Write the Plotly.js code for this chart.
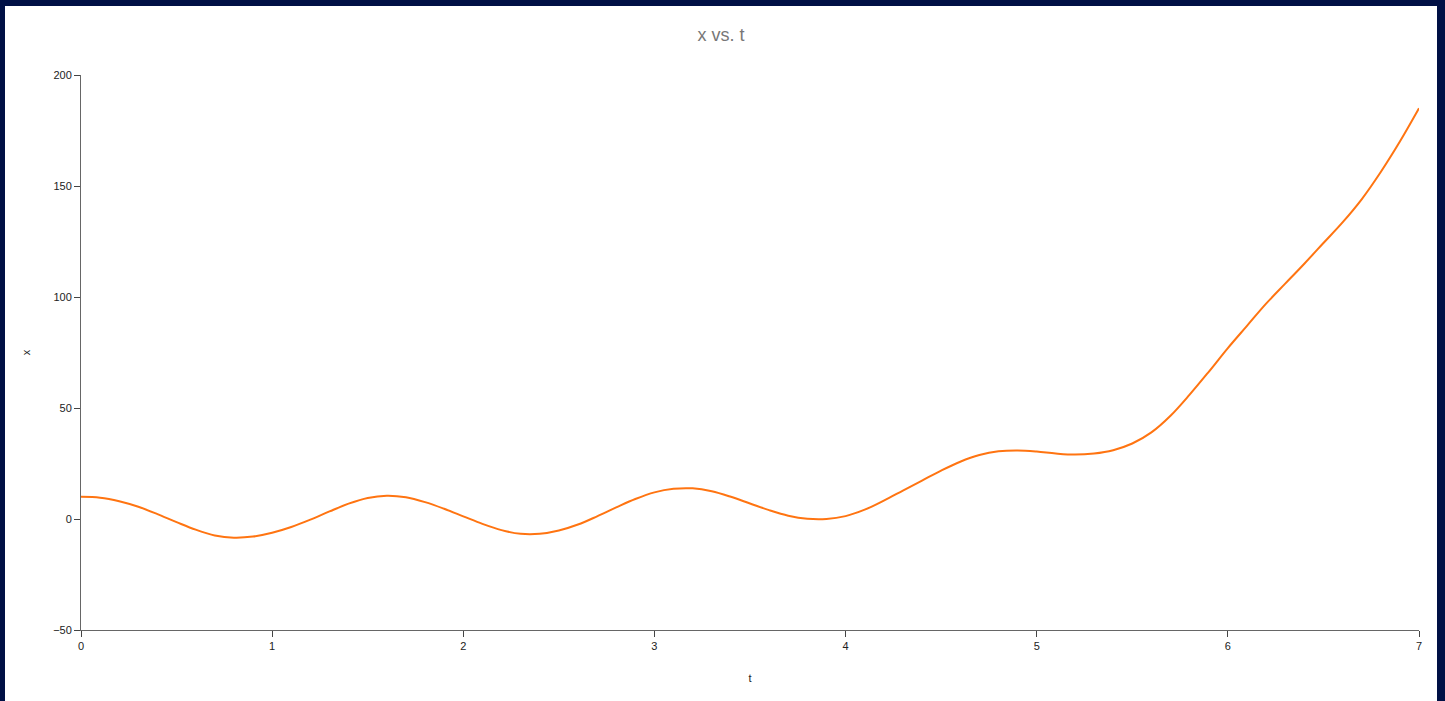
<!DOCTYPE html>
<html>
<head>
<meta charset="utf-8">
<script src="https://cdn.plot.ly/plotly-3.0.1.min.js"></script>
<style>
  html, body { margin: 0; padding: 0; background: #001045; width: 1445px; height: 701px; overflow: hidden; }
  #chart { position: absolute; left: 5px; top: 6px; width: 1432px; height: 695px; background: #fff; }
</style>
</head>
<body>
<div id="chart"></div>
<script>
const tValues = [0,0.1,0.2,0.3,0.4,0.5,0.6,0.7,0.8,0.9,1.0,1.1,1.2,1.3,1.4,1.5,1.6,1.7,1.8,1.9,2.0,2.1,2.2,2.3,2.4,2.5,2.6,2.7,2.8,2.9,3.0,3.1,3.2,3.3,3.4,3.5,3.6,3.7,3.8,3.9,4.0,4.1,4.2,4.3,4.4,4.5,4.6,4.7,4.8,4.9,5.0,5.1,5.2,5.3,5.4,5.5,5.6,5.7,5.8,5.9,6.0,6.1,6.2,6.3,6.4,6.5,6.6,6.7,6.8,6.9,7.0];
const xValues = [10,9.6,8.0,5.5,2.2,-1.4,-4.8,-7.4,-8.4,-7.9,-6.2,-3.6,-0.3,3.4,6.9,9.5,10.5,9.8,7.6,4.6,1.2,-2.2,-5.0,-6.7,-6.7,-5.2,-2.5,1.2,5.2,9.0,12.0,13.6,13.8,12.5,10,7,4,1.5,0.1,0,1.3,4.2,8.3,12.8,17.3,21.8,25.8,28.8,30.5,30.9,30.4,29.5,29,29.5,31,34,39,46.5,56,66.3,77,87,97,106,115,124.3,133.6,144,156.3,170,185];
const xTickVals = [0,1,2,3,4,5,6,7];
const yTickVals = [-50,0,50,100,150,200];

const trace = {
  x: tValues, y: xValues, type: 'scatter', mode: 'lines',
  line: { color: '#ff7411', width: 2, shape: 'spline', smoothing: 1 },
  hoverinfo: 'none'
};
const axisCommon = {
  showgrid: false, zeroline: false, showline: true, linecolor: '#666', linewidth: 1,
  ticks: 'outside', ticklen: 6, tickcolor: '#444', tickfont: { size: 11, color: '#222' }
};
const layout = {
  width: 1432, height: 695,
  paper_bgcolor: '#ffffff', plot_bgcolor: '#ffffff',
  font: { family: '"Liberation Sans", Arial, sans-serif', color: '#222' },
  margin: { l: 76, r: 18, t: 69, b: 71 },
  showlegend: false,
  title: { text: 'x vs. t', x: 0.5, xref: 'container', y: 0.958, yanchor: 'middle', font: { size: 18, color: '#777' } },
  xaxis: Object.assign({}, axisCommon, { range: [0, 7], tickvals: xTickVals, title: { text: 't', font: { size: 11, color: '#222' }, standoff: 23 } }),
  yaxis: Object.assign({}, axisCommon, { range: [-50, 200], tickvals: yTickVals, title: { text: 'x', font: { size: 11, color: '#222' }, standoff: 20 } })
};
Plotly.newPlot('chart', [trace], layout, { staticPlot: true, displayModeBar: false });
</script>
</body>
</html>
